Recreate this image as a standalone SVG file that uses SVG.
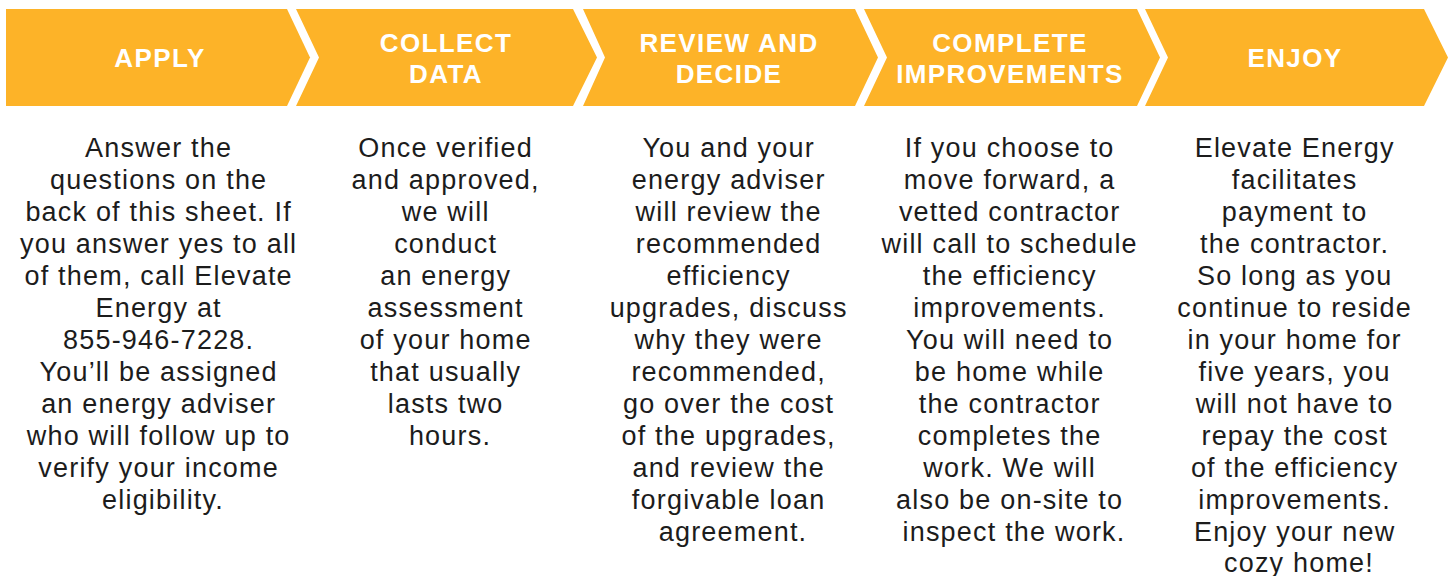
<svg xmlns="http://www.w3.org/2000/svg" width="1455" height="576" viewBox="0 0 1455 576">
<style>
.chev{fill:#FDB328}
.hd{font-family:"Liberation Sans",Arial,sans-serif;font-weight:bold;font-size:26px;fill:#ffffff;text-anchor:middle;letter-spacing:1.4px}
.bd{font-family:"Liberation Sans",Arial,sans-serif;font-size:27px;fill:#1c1c1c;text-anchor:middle;letter-spacing:1.2px}
</style>
<rect width="1455" height="576" fill="#ffffff"/>
<g id="step-apply">
<polygon class="chev" points="6,9 287,9 310,57.5 287,106 6,106"/>
<text class="hd" x="160" y="67">APPLY</text>
<text class="bd">
<tspan x="163" y="157">Answer the</tspan>
<tspan x="163" y="189">questions on the</tspan>
<tspan x="163" y="221">back of this sheet. If</tspan>
<tspan x="163" y="253">you answer yes to all</tspan>
<tspan x="163" y="285">of them, call Elevate</tspan>
<tspan x="163" y="317">Energy at</tspan>
<tspan x="163" y="349">855-946-7228.</tspan>
<tspan x="163" y="381">You’ll be assigned</tspan>
<tspan x="163" y="413">an energy adviser</tspan>
<tspan x="163" y="445">who will follow up to</tspan>
<tspan x="163" y="477">verify your income</tspan>
<tspan x="163" y="509">eligibility.</tspan>
</text>
</g>
<g id="step-collect">
<polygon class="chev" points="296,9 573,9 597,57.5 573,106 296,106 319,57.5"/>
<text class="hd"><tspan x="446" y="52">COLLECT</tspan><tspan x="446" y="83">DATA</tspan></text>
<text class="bd">
<tspan x="450" y="157">Once verified</tspan>
<tspan x="450" y="189">and approved,</tspan>
<tspan x="450" y="221">we will</tspan>
<tspan x="450" y="253">conduct</tspan>
<tspan x="450" y="285">an energy</tspan>
<tspan x="450" y="317">assessment</tspan>
<tspan x="450" y="349">of your home</tspan>
<tspan x="450" y="381">that usually</tspan>
<tspan x="450" y="413">lasts two</tspan>
<tspan x="450" y="445">hours.</tspan>
</text>
</g>
<g id="step-review">
<polygon class="chev" points="583,9 855,9 878,57.5 855,106 583,106 605,57.5"/>
<text class="hd"><tspan x="729" y="52">REVIEW AND</tspan><tspan x="729" y="83">DECIDE</tspan></text>
<text class="bd">
<tspan x="733" y="157">You and your</tspan>
<tspan x="733" y="189">energy adviser</tspan>
<tspan x="733" y="221">will review the</tspan>
<tspan x="733" y="253">recommended</tspan>
<tspan x="733" y="285">efficiency</tspan>
<tspan x="733" y="317">upgrades, discuss</tspan>
<tspan x="733" y="349">why they were</tspan>
<tspan x="733" y="381">recommended,</tspan>
<tspan x="733" y="413">go over the cost</tspan>
<tspan x="733" y="445">of the upgrades,</tspan>
<tspan x="733" y="477">and review the</tspan>
<tspan x="733" y="509">forgivable loan</tspan>
<tspan x="733" y="541">agreement.</tspan>
</text>
</g>
<g id="step-complete">
<polygon class="chev" points="864,9 1137,9 1160,57.5 1137,106 864,106 887,57.5"/>
<text class="hd"><tspan x="1010" y="52">COMPLETE</tspan><tspan x="1010" y="83">IMPROVEMENTS</tspan></text>
<text class="bd">
<tspan x="1014" y="157">If you choose to</tspan>
<tspan x="1014" y="189">move forward, a</tspan>
<tspan x="1014" y="221">vetted contractor</tspan>
<tspan x="1014" y="253">will call to schedule</tspan>
<tspan x="1014" y="285">the efficiency</tspan>
<tspan x="1014" y="317">improvements.</tspan>
<tspan x="1014" y="349">You will need to</tspan>
<tspan x="1014" y="381">be home while</tspan>
<tspan x="1014" y="413">the contractor</tspan>
<tspan x="1014" y="445">completes the</tspan>
<tspan x="1014" y="477">work. We will</tspan>
<tspan x="1014" y="509">also be on-site to</tspan>
<tspan x="1014" y="541">inspect the work.</tspan>
</text>
</g>
<g id="step-enjoy">
<polygon class="chev" points="1145,9 1424,9 1448,57.5 1424,106 1145,106 1168,57.5"/>
<text class="hd" x="1295" y="67">ENJOY</text>
<text class="bd">
<tspan x="1299" y="157">Elevate Energy</tspan>
<tspan x="1299" y="189">facilitates</tspan>
<tspan x="1299" y="221">payment to</tspan>
<tspan x="1299" y="253">the contractor.</tspan>
<tspan x="1299" y="285">So long as you</tspan>
<tspan x="1299" y="317">continue to reside</tspan>
<tspan x="1299" y="349">in your home for</tspan>
<tspan x="1299" y="381">five years, you</tspan>
<tspan x="1299" y="413">will not have to</tspan>
<tspan x="1299" y="445">repay the cost</tspan>
<tspan x="1299" y="477">of the efficiency</tspan>
<tspan x="1299" y="509">improvements.</tspan>
<tspan x="1299" y="541">Enjoy your new</tspan>
<tspan x="1299" y="572">cozy home!</tspan>
</text>
</g>
<g id="connectors"></g>
</svg>
